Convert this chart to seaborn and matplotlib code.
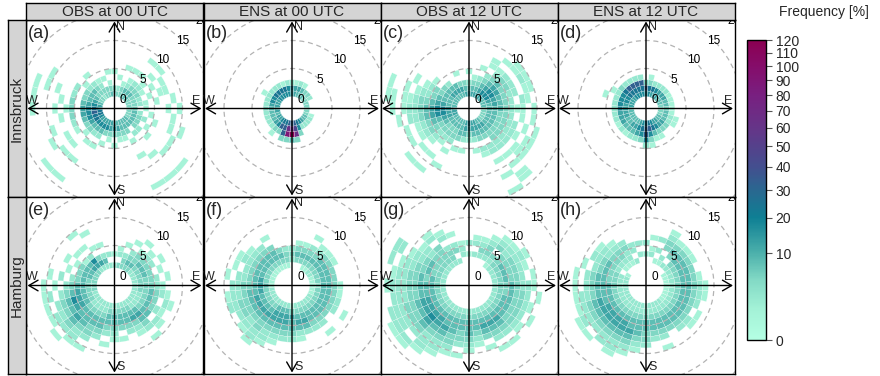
import numpy as np
import matplotlib
matplotlib.use("Agg")
import matplotlib.pyplot as plt
import matplotlib.patches as mpatches
from matplotlib.collections import PolyCollection
from matplotlib.colors import PowerNorm, LinearSegmentedColormap
import matplotlib.cm as cm
import seaborn as sns

sns.set_theme(style="white")
plt.rcParams['font.family'] = ['Liberation Sans', 'DejaVu Sans']

# ---------------- data ----------------
col_titles = ["OBS at 00 UTC", "ENS at 00 UTC", "OBS at 12 UTC", "ENS at 12 UTC"]
row_titles = ["Innsbruck", "Hamburg"]
panel_letters = ["(a)", "(b)", "(c)", "(d)", "(e)", "(f)", "(g)", "(h)"]
ring_speeds = [0, 5, 10, 15, 20]          # m/s labels
dashed_rings = [5, 10, 15, 20]
cbar_ticks = [0, 10, 20, 30, 40, 50, 60, 70, 80, 90, 100, 110, 120]
dir_width = 10      # degrees per sector (sector i centred on i*10 deg, clockwise from N)
speed_width = 1     # m/s per bin

# frequency level codes -> frequency [%]
level_values = {'.': 0, '1': 1, '2': 2.5, '3': 5, '4': 8, '5': 12, '6': 17,
                '7': 24, '8': 32, '9': 45, 'A': 65, 'B': 90, 'C': 115}

# each list: 36 direction sectors (N, 10, 20, ... deg), each string: speed bins 0-1, 1-2, ... m/s
ibk_obs_00 = [
    "43..1", "32.1", "331..1", "4421.1", "4432.1..1", "44321.1.1", "3331.1.1", "332.1.11",
    "3321.1..1", "33.1...1.1", "342.1...1", "3432.1..1.1", "343.1....1", "4432.1...1...1",
    "44.2....1....1", "443.1..1.....1", "4431", "4531", "553.1", "5531", "563.1", "5642.1",
    "5642.1...1...1", "56431..1.1...1", "6753.1.1..1", "7764.2...1", "7865.3.1", "6765.31.1...1",
    "5654.3.1....1", "4543.2..1.1.1", "3443.2....1", "33421", "2332.1", "3321", "33.1", "431.1",
]
ibk_ens_00 = [
    "562", "551", "452", "441", "43", "33", "32", "3", "3", "3", "3", "31",
    "42", "42", "52", "62", "763", "89A3", "8AC4", "8AB3", "7883", "783", "6631", "552",
    "542", "442", "542", "543", "552", "562", "5621", "672", "672", "672", "671", "662",
]
ibk_obs_12 = [
    "542.1", "5431", "5432.1", "55432.11", "5654321.1", "5665432.11", "4665332.21", "4554322.11",
    "445432.21", "34443211.1", "344332.1.1", "3443322.1.1", "34433221.11", "3443322.111",
    "4543322.1.1.11", "4543.22.1..1..1", "5543.21", "5542.1", "6532", "5542.1", "4443.1",
    "44332.1..1", "443321..1..1", "4433221.1..1", "44433321.1", "55544321.1", "556654322.1",
    "5566543221.1", "4455433211.11", "44443221.1..1", "4443321.1", "4543.1", "4542", "454",
    "453.1", "543",
]
ibk_ens_12 = [
    "683", "6731", "572", "562", "552", "452", "451", "441", "341", "331", "341", "3421",
    "4421", "453", "553", "5631", "6741", "78631", "78862", "6763", "5652", "4542", "4541",
    "4442", "4451", "4552", "4552", "4562", "5562", "5662.1", "56621", "5773", "6782", "6782",
    "6782", "6782",
]
ham_obs_00 = [
    ".2.1", ".3.21", ".332.1", ".3432.1", ".34331.1", ".234321", ".23432.1", ".2343.1",
    ".23332.1", ".233321", ".2334321", ".22343.21", ".2234321", ".22344.21", ".2245432.1",
    ".2345321", ".234432", ".23443.1", ".2344321", ".234432.1", ".2234432", ".22344332.1",
    ".2234443221", ".223445432.1", ".2345543221", ".23456432.1", ".3345432.21", ".334432.1.1",
    ".33432.2.1", ".3443.1", ".34431.1", ".3541.1", ".2562.1..1", ".253.1..1", ".242.1", ".2.2",
]
ham_ens_00 = [
    "..232", "..3431", "..3431", ".13432.1", ".134321", ".234431", ".234431", ".13443",
    ".13443", ".124431", ".134431", ".134432", ".234432.1", ".23443", ".234432.1", ".234432",
    ".234542", ".2345421", ".1354432", ".2455432", ".24554321", ".245543221", ".2345433221",
    ".234543221", ".23454332", ".234543322", ".235443221", ".14543322", ".1354322.1",
    ".134432.1", ".13443221", ".1344321", ".134432", ".13443.1", ".1343", ".1332",
]
ham_obs_12 = [
    "...1.2", "...2.21", "...2321", "...23321", "..123.321", "..2333221", "..23433221",
    "..2343321", "..234332.1", "..23343221", "..2334332.1", "..23443321", "..2344332.1",
    "..23443321", "..2345432.1", "..2345432.1", "..234543.1", "..2344321", "..23444321",
    "..2344332.1", "..234443321", "..2344543221", "..23455432221", "..234565432.21",
    "..234554332221", "..23455433222", "..2344433222", "..23444332221", "..2343433221",
    "..233433221.2", "..23343221.22", "..2333221", "..23333.21", "..2332.21", "..2.32.1", "...221",
]
ham_ens_12 = [
    "...2.2", "...21.1", "..1.2.2", "..12.3321", "..2.3431", "..234431", ".1234431", ".123443",
    ".1234431", ".12344321", ".12344321", ".1234432", ".123443.1", ".12344321", ".2234432",
    ".223443", ".2234432.1", ".2234432", ".22344332", ".223444321", ".2234454321",
    ".22345543221", ".2234554322", ".223455432.1", ".22345543221", ".2234454321",
    ".2234443221", ".22344432.1", ".22334432.1", ".2233432.1", ".1.234322", "..1233221",
    "..123321", "..12232", "..2.22", "...2.2",
]
panels = [ibk_obs_00, ibk_ens_00, ibk_obs_12, ibk_ens_12,
          ham_obs_00, ham_ens_00, ham_obs_12, ham_ens_12]

# ---------------- styling ----------------
W, H, DPI = 880, 376, 100
PX = 5.6                 # pixels per m/s
R0 = 12 / PX             # radius of central hole in m/s units
HALF = 88.5 / PX         # axis half width
cmap = LinearSegmentedColormap.from_list("freq", [
    (0.00, "#b4ffe3"), (0.10, "#a4f2d7"), (0.20, "#82d9c5"), (0.289, "#4cb0ab"),
    (0.408, "#0e7f94"), (0.50, "#2a6790"), (0.577, "#434f8f"), (0.707, "#653588"),
    (0.82, "#791f80"), (0.913, "#850d6a"), (1.00, "#8b0052")])
norm = PowerNorm(gamma=0.5, vmin=0, vmax=120)


def cells(rows):
    verts, vals = [], []
    for i, row in enumerate(rows):
        c = i * dir_width
        th = np.deg2rad(np.linspace(c - dir_width / 2, c + dir_width / 2, 8))
        for k, ch in enumerate(row):
            v = level_values[ch]
            if v <= 0:
                continue
            ri = R0 + k * speed_width
            ro = ri + speed_width
            outer = np.column_stack([ro * np.sin(th), ro * np.cos(th)])
            inner = np.column_stack([ri * np.sin(th[::-1]), ri * np.cos(th[::-1])])
            verts.append(np.vstack([outer, inner]))
            vals.append(v)
    return verts, np.array(vals, dtype=float)


fig = plt.figure(figsize=(W / DPI, H / DPI), dpi=DPI)
fig.patch.set_facecolor("white")

col_x = [26, 203.5, 380.5, 557.5]
row_y = [20, 197]
pw = ph = 177

for idx, rows in enumerate(panels):
    r, c = divmod(idx, 4)
    x0 = col_x[c]
    y0 = row_y[r]
    ax = fig.add_axes([x0 / W, 1 - (y0 + ph) / H, pw / W, ph / H])
    ax.set_xlim(-HALF, HALF)
    ax.set_ylim(-HALF, HALF)
    ax.set_xticks([])
    ax.set_yticks([])
    ax.set_facecolor("white")
    for s in ax.spines.values():
        s.set_color("black")
        s.set_linewidth(1.0)
        s.set_zorder(10)

    verts, vals = cells(rows)
    pc = PolyCollection(verts, array=vals, cmap=cmap, norm=norm,
                        edgecolors="white", linewidths=0.15, zorder=1)
    ax.add_collection(pc)

    for ws in dashed_rings:
        ax.add_patch(mpatches.Circle((0, 0), R0 + ws, fill=False, ls=(0, (4, 3)),
                                     ec="#b3b3b3", lw=0.9, zorder=2))
    for ws in ring_speeds:
        rr = R0 + ws
        ax.text(rr * np.sin(np.pi / 4), rr * np.cos(np.pi / 4), str(ws), ha="center",
                va="center", fontsize=8.5, color="black", zorder=4, clip_on=True)

    L = 87 / PX
    ap = dict(arrowstyle="<->,head_length=0.55,head_width=0.32", lw=1.0, color="black",
              shrinkA=0, shrinkB=0)
    ax.annotate("", xy=(L, 0), xytext=(-L, 0), arrowprops=ap, zorder=3)
    ax.annotate("", xy=(0, L), xytext=(0, -L), arrowprops=ap, zorder=3)
    ax.text(0.35, 82 / PX, "N", ha="left", va="center", fontsize=9, zorder=4)
    ax.text(0.35, -82 / PX, "S", ha="left", va="center", fontsize=9, zorder=4)
    ax.text(-83 / PX, 8 / PX, "W", ha="center", va="center", fontsize=9, zorder=4)
    ax.text(82 / PX, 8 / PX, "E", ha="center", va="center", fontsize=9, zorder=4)
    ax.text(0.012, 0.925, panel_letters[idx], transform=ax.transAxes, ha="left",
            va="center", fontsize=13, zorder=5)

# column strips
for c, t in enumerate(col_titles):
    sax = fig.add_axes([col_x[c] / W, 1 - 20 / H, pw / W, 17.5 / H])
    sax.set_facecolor("#d4d4d4")
    sax.set_xticks([]); sax.set_yticks([])
    for s in sax.spines.values():
        s.set_color("black"); s.set_linewidth(1.0)
    sax.text(0.5, 0.47, t, ha="center", va="center", fontsize=11, transform=sax.transAxes)

# row strips
for r, t in enumerate(row_titles):
    sax = fig.add_axes([8 / W, 1 - (row_y[r] + ph) / H, 18 / W, ph / H])
    sax.set_facecolor("#d4d4d4")
    sax.set_xticks([]); sax.set_yticks([])
    for s in sax.spines.values():
        s.set_color("black"); s.set_linewidth(1.0)
    sax.text(0.5, 0.5, t, ha="center", va="center", rotation=90, fontsize=11,
             transform=sax.transAxes)

# colour bar
cax = fig.add_axes([747 / W, 1 - 340 / H, 19 / W, 300 / H])
sm = cm.ScalarMappable(norm=norm, cmap=cmap)
cb = fig.colorbar(sm, cax=cax, ticks=cbar_ticks)
cb.outline.set_edgecolor("black")
cb.outline.set_linewidth(1.0)
cax.tick_params(labelsize=10, length=4, width=0.8, color="#555555", direction="out",
                pad=3, right=True)
fig.text(824 / W, 1 - 12 / H, "Frequency [%]", ha="center", va="center", fontsize=10)

fig.savefig("out.png", dpi=DPI, facecolor="white")
